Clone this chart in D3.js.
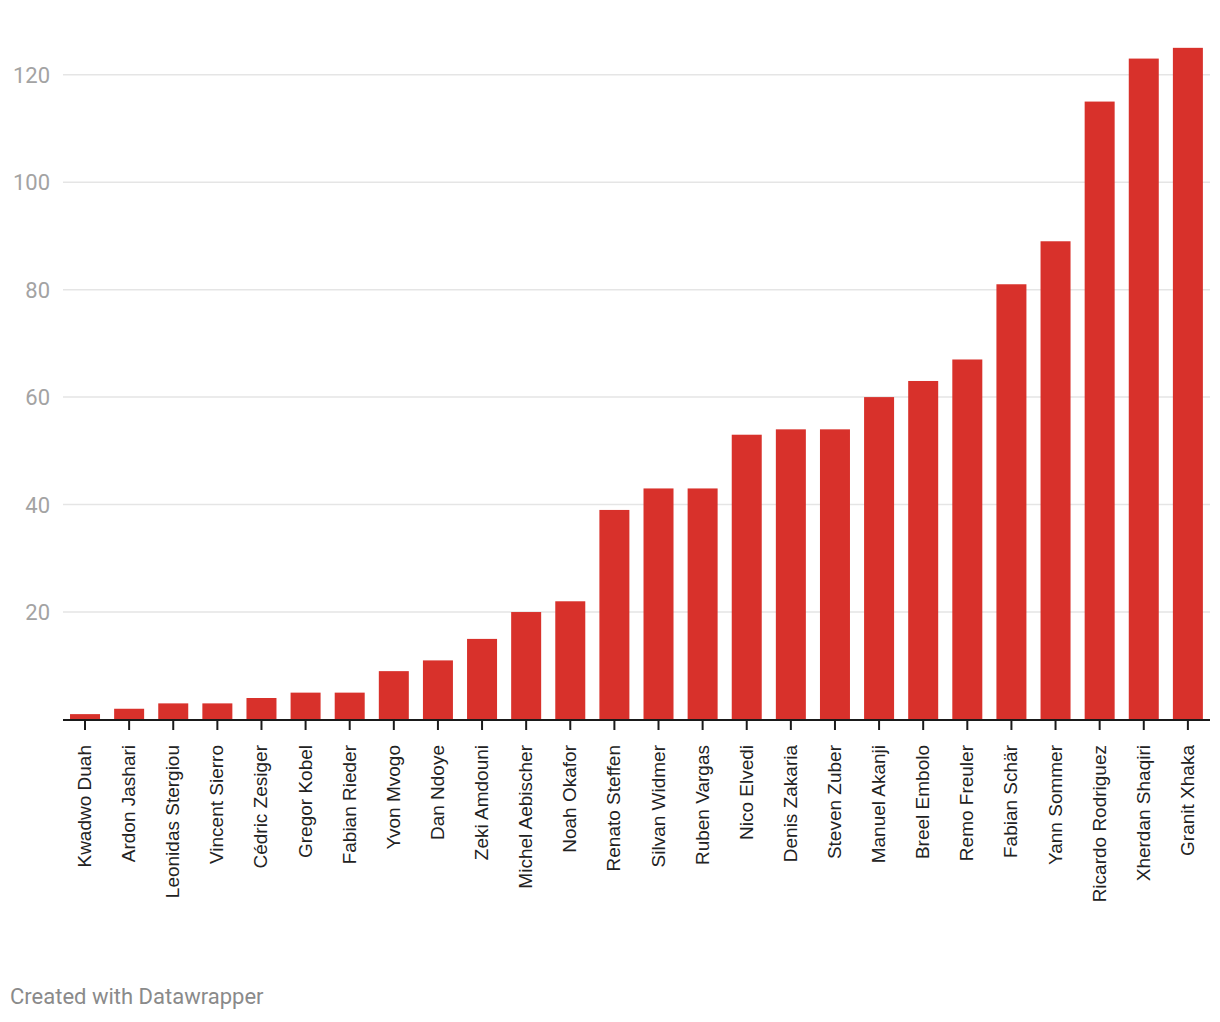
<!DOCTYPE html>
<html>
<head>
<meta charset="utf-8">
<script src="https://cdn.jsdelivr.net/npm/d3@7"></script>
<style>
  html, body { margin: 0; padding: 0; background: #fff; }
  svg { display: block; }
</style>
</head>
<body>
<svg id="chart" width="1220" height="1022"></svg>
<script>
const players = ["Kwadwo Duah","Ardon Jashari","Leonidas Stergiou","Vincent Sierro","Cédric Zesiger","Gregor Kobel","Fabian Rieder","Yvon Mvogo","Dan Ndoye","Zeki Amdouni","Michel Aebischer","Noah Okafor","Renato Steffen","Silvan Widmer","Ruben Vargas","Nico Elvedi","Denis Zakaria","Steven Zuber","Manuel Akanji","Breel Embolo","Remo Freuler","Fabian Schär","Yann Sommer","Ricardo Rodriguez","Xherdan Shaqiri","Granit Xhaka"];
const caps = [1,2,3,3,4,5,5,9,11,15,20,22,39,43,43,53,54,54,60,63,67,81,89,115,123,125];
const yTicks = [20,40,60,80,100,120];
const footerText = "Created with Datawrapper";

const svg = d3.select("#chart");
const plotLeft = 63, plotRight = 1210;

const x = d3.scaleBand().domain(players).range([55.9, 1217]).paddingInner(0.32).paddingOuter(0.32);
const y = d3.scaleLinear().domain([0, 120]).range([719.5, 74.7]);

// gridlines
svg.append("g").selectAll("line").data(yTicks).join("line")
  .attr("x1", plotLeft).attr("x2", plotRight)
  .attr("y1", d => y(d)).attr("y2", d => y(d))
  .attr("stroke", "#e5e5e5").attr("stroke-width", 1.5);

// y labels
svg.append("g").selectAll("text").data(yTicks).join("text")
  .attr("x", 50).attr("y", d => y(d) + 8)
  .attr("text-anchor", "end")
  .attr("font-family", "Roboto, sans-serif").attr("font-size", 22)
  .attr("fill", "#a3a3a3")
  .text(d => d);

// bars
const data = players.map((p, i) => ({ p, v: caps[i] }));
svg.append("g").selectAll("rect").data(data).join("rect")
  .attr("x", d => x(d.p)).attr("width", x.bandwidth())
  .attr("y", d => y(d.v)).attr("height", d => y(0) - y(d.v))
  .attr("fill", "#d8312b");

// baseline
svg.append("line").attr("x1", plotLeft).attr("x2", plotRight)
  .attr("y1", y(0) + 0.5).attr("y2", y(0) + 0.5)
  .attr("stroke", "#1a1a1a").attr("stroke-width", 2);

// ticks
svg.append("g").selectAll("line").data(players).join("line")
  .attr("x1", d => x(d) + x.bandwidth() / 2).attr("x2", d => x(d) + x.bandwidth() / 2)
  .attr("y1", y(0)).attr("y2", 730)
  .attr("stroke", "#1a1a1a").attr("stroke-width", 2);

// x labels
svg.append("g").selectAll("text").data(players).join("text")
  .attr("transform", d => `translate(${x(d) + x.bandwidth() / 2 + 6},745) rotate(-90)`)
  .attr("text-anchor", "end")
  .attr("font-family", "'Liberation Sans', Arial, sans-serif").attr("font-size", 19)
  .attr("fill", "#222")
  .text(d => d);

// footer
svg.append("text").attr("x", 10).attr("y", 1004)
  .attr("font-family", "Roboto, sans-serif").attr("font-size", 22)
  .attr("fill", "#8a8a8a")
  .text(footerText);
</script>
</body>
</html>
